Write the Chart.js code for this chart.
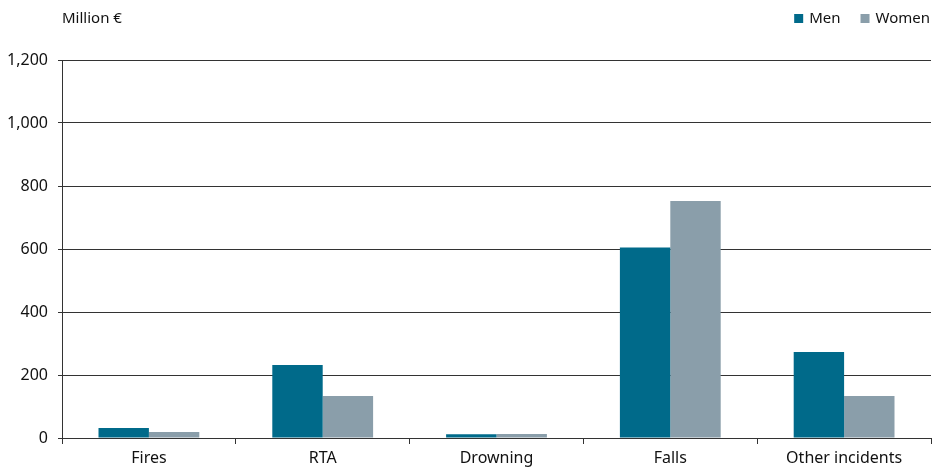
<!DOCTYPE html>
<html>
<head>
<meta charset="utf-8">
<script src="https://cdn.jsdelivr.net/npm/chart.js@4"></script>
<style>
  html, body { margin: 0; padding: 0; background: #fff; }
  #wrap { width: 938px; height: 472px; }
</style>
</head>
<body>
<div id="wrap"><canvas id="chart"></canvas></div>
<script>
const categories = ['Fires', 'RTA', 'Drowning', 'Falls', 'Other incidents'];
const menValues = [32, 232, 12, 605, 273];
const womenValues = [19, 133, 13, 752, 133];
const yTicks = [0, 200, 400, 600, 800, 1000, 1200];
const unitLabel = 'Million €';

const FONT = '"Noto Sans", "Open Sans", sans-serif';
const TEXT = '#111111';
const LINE = '#333333';

// unit label top-left and legend top-right
const headerPlugin = {
    id: 'header',
    afterDraw(chart) {
        const ctx = chart.ctx;
        const area = chart.chartArea;
        ctx.save();
        ctx.font = '15px ' + FONT;
        ctx.fillStyle = TEXT;
        ctx.textBaseline = 'middle';
        ctx.textAlign = 'left';
        ctx.fillText(unitLabel, area.left, 19);

        // legend, drawn right to left
        let x = area.right - 1;
        const sets = chart.data.datasets.slice().reverse();
        sets.forEach((ds) => {
            const w = ctx.measureText(ds.label).width;
            ctx.fillStyle = TEXT;
            ctx.fillText(ds.label, x - w, 19);
            x -= w + 6;
            ctx.fillStyle = ds.backgroundColor;
            ctx.fillRect(x - 9, 14, 9, 9);
            x -= 9 + 20;
        });
        ctx.restore();
    }
};

new Chart(document.getElementById('chart'), {
    type: 'bar',
    data: {
        labels: categories,
        datasets: [
            { label: 'Men', data: menValues, backgroundColor: '#006a8a' },
            { label: 'Women', data: womenValues, backgroundColor: '#8a9eaa' }
        ]
    },
    options: {
        responsive: true,
        maintainAspectRatio: false,
        animation: false,
        layout: { padding: { top: 60, right: 7, bottom: 0, left: 0 } },
        datasets: {
            bar: { categoryPercentage: 0.58, barPercentage: 1.0 }
        },
        plugins: {
            legend: { display: false },
            tooltip: { enabled: false }
        },
        scales: {
            x: {
                offset: true,
                grid: {
                    offset: true,
                    drawOnChartArea: false,
                    drawTicks: true,
                    tickLength: 6,
                    color: LINE
                },
                border: { display: true, color: LINE },
                ticks: {
                    color: TEXT,
                    font: { family: FONT, size: 16 },
                    padding: 5,
                    maxRotation: 0
                },
                afterFit(scale) { scale.height = 34; }
            },
            y: {
                min: 0,
                max: 1200,
                afterBuildTicks(scale) {
                    scale.ticks = yTicks.map(v => ({ value: v }));
                },
                grid: {
                    color: LINE,
                    tickLength: 4
                },
                border: { display: true, color: LINE },
                ticks: {
                    color: TEXT,
                    font: { family: FONT, size: 16 },
                    padding: 10,
                    callback: v => v.toLocaleString('en-US')
                },
                afterFit(scale) { scale.width = 62; }
            }
        }
    },
    plugins: [headerPlugin]
});
</script>
</body>
</html>
